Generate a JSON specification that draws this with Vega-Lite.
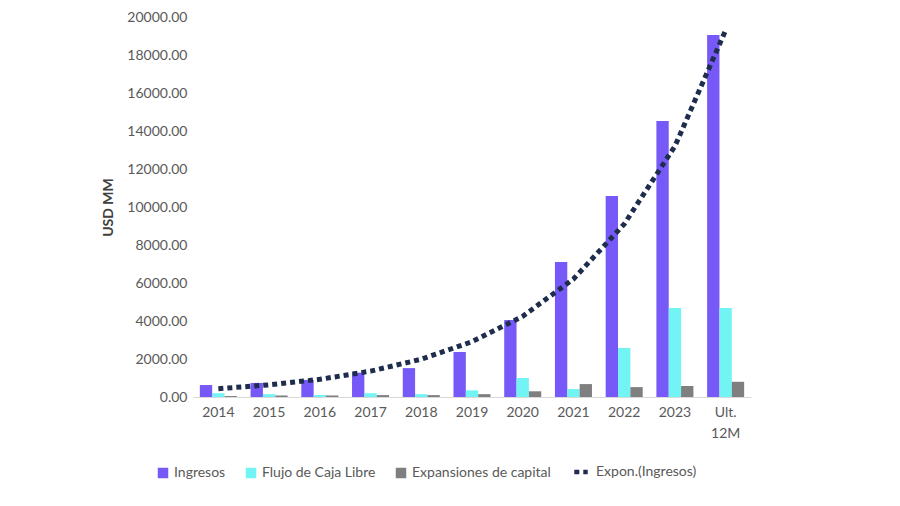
{
  "$schema": "https://vega.github.io/schema/vega-lite/v6.json",
  "width": 558,
  "height": 380,
  "autosize": {"type": "none"},
  "padding": {"left": 193, "top": 17, "right": 149, "bottom": 109},
  "background": "white",
  "config": {
    "view": {"stroke": null},
    "font": "Lato",
    "axis": {"labelFont": "Lato", "titleFont": "Lato", "labelColor": "#595959", "labelFontSize": 14, "grid": false, "ticks": false},
    "legend": {"labelFont": "Lato", "labelFontSize": 14, "labelColor": "#595959"}
  },
  "datasets": {
    "bars": [
      {"year": "2014", "series": "Ingresos", "value": 630},
      {"year": "2014", "series": "Flujo de Caja Libre", "value": 200},
      {"year": "2014", "series": "Expansiones de capital", "value": 50},
      {"year": "2015", "series": "Ingresos", "value": 740},
      {"year": "2015", "series": "Flujo de Caja Libre", "value": 150},
      {"year": "2015", "series": "Expansiones de capital", "value": 80},
      {"year": "2016", "series": "Ingresos", "value": 900},
      {"year": "2016", "series": "Flujo de Caja Libre", "value": 110},
      {"year": "2016", "series": "Expansiones de capital", "value": 80},
      {"year": "2017", "series": "Ingresos", "value": 1280},
      {"year": "2017", "series": "Flujo de Caja Libre", "value": 200},
      {"year": "2017", "series": "Expansiones de capital", "value": 100},
      {"year": "2018", "series": "Ingresos", "value": 1520},
      {"year": "2018", "series": "Flujo de Caja Libre", "value": 150},
      {"year": "2018", "series": "Expansiones de capital", "value": 100},
      {"year": "2019", "series": "Ingresos", "value": 2370},
      {"year": "2019", "series": "Flujo de Caja Libre", "value": 350},
      {"year": "2019", "series": "Expansiones de capital", "value": 150},
      {"year": "2020", "series": "Ingresos", "value": 4050},
      {"year": "2020", "series": "Flujo de Caja Libre", "value": 1000},
      {"year": "2020", "series": "Expansiones de capital", "value": 300},
      {"year": "2021", "series": "Ingresos", "value": 7100},
      {"year": "2021", "series": "Flujo de Caja Libre", "value": 420},
      {"year": "2021", "series": "Expansiones de capital", "value": 680},
      {"year": "2022", "series": "Ingresos", "value": 10580},
      {"year": "2022", "series": "Flujo de Caja Libre", "value": 2580},
      {"year": "2022", "series": "Expansiones de capital", "value": 520},
      {"year": "2023", "series": "Ingresos", "value": 14530},
      {"year": "2023", "series": "Flujo de Caja Libre", "value": 4680},
      {"year": "2023", "series": "Expansiones de capital", "value": 580},
      {"year": "Ult. 12M", "series": "Ingresos", "value": 19050},
      {"year": "Ult. 12M", "series": "Flujo de Caja Libre", "value": 4680},
      {"year": "Ult. 12M", "series": "Expansiones de capital", "value": 800}
    ],
    "trend": [
      {"year": "2014", "series": "Expon.(Ingresos)", "value": 435},
      {"year": "2015", "series": "Expon.(Ingresos)", "value": 640},
      {"year": "2016", "series": "Expon.(Ingresos)", "value": 930},
      {"year": "2017", "series": "Expon.(Ingresos)", "value": 1360},
      {"year": "2018", "series": "Expon.(Ingresos)", "value": 1990},
      {"year": "2019", "series": "Expon.(Ingresos)", "value": 2910},
      {"year": "2020", "series": "Expon.(Ingresos)", "value": 4250},
      {"year": "2021", "series": "Expon.(Ingresos)", "value": 6210},
      {"year": "2022", "series": "Expon.(Ingresos)", "value": 9100},
      {"year": "2023", "series": "Expon.(Ingresos)", "value": 13200},
      {"year": "Ult. 12M", "series": "Expon.(Ingresos)", "value": 19300}
    ]
  },
  "encoding": {
    "x": {
      "field": "year",
      "type": "nominal",
      "sort": null,
      "title": null,
      "scale": {"domain": ["2014","2015","2016","2017","2018","2019","2020","2021","2022","2023","Ult. 12M"], "paddingInner": 0.27, "paddingOuter": 0.135},
      "axis": {"labelAngle": 0, "domainColor": "#d9d9d9", "domainWidth": 1, "labelPadding": 8, "labelLineHeight": 21, "labelExpr": "datum.value == 'Ult. 12M' ? ['Ult.', '12M'] : datum.value"}
    },
    "y": {
      "field": "value",
      "type": "quantitative",
      "title": "USD MM",
      "scale": {"domain": [0, 20000], "nice": false},
      "axis": {"values": [0,2000,4000,6000,8000,10000,12000,14000,16000,18000,20000], "format": ".2f", "domain": false, "labelPadding": 6, "titleFontSize": 14, "titleFontWeight": "bold", "titleColor": "#404040", "titlePadding": 11}
    }
  },
  "layer": [
    {
      "data": {"name": "bars"},
      "mark": {"type": "bar"},
      "encoding": {
        "xOffset": {"field": "series", "type": "nominal", "sort": ["Ingresos", "Flujo de Caja Libre", "Expansiones de capital"], "scale": {"paddingInner": 0, "paddingOuter": 0}},
        "color": {
          "field": "series",
          "type": "nominal",
          "sort": ["Ingresos", "Flujo de Caja Libre", "Expansiones de capital"],
          "scale": {"domain": ["Ingresos", "Flujo de Caja Libre", "Expansiones de capital"], "range": ["#7659f7", "#72f4f4", "#7f7f7f"]},
          "legend": {"title": null, "orient": "none", "direction": "horizontal", "legendX": -37, "legendY": 449, "symbolType": "square", "symbolSize": 110, "columnPadding": 18, "labelOffset": 4}
        }
      }
    },
    {
      "data": {"name": "trend"},
      "mark": {"type": "line", "color": "#1f2d4d", "strokeWidth": 5, "strokeCap": "butt", "strokeDash": [5, 4]},
      "encoding": {
        "strokeDash": {
          "field": "series",
          "type": "nominal",
          "scale": {"domain": ["Expon.(Ingresos)"], "range": [[5, 4]]},
          "legend": {"title": null, "orient": "none", "legendX": 379, "legendY": 446, "symbolType": "stroke", "symbolStrokeColor": "#1f2d4d", "symbolStrokeWidth": 4.5, "symbolSize": 180, "labelOffset": 6}
        }
      }
    }
  ]
}
